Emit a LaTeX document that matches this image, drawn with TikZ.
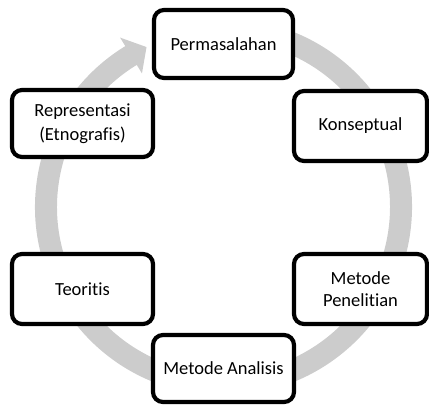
\documentclass[tikz,border=0pt]{standalone}
\usepackage{fontspec}
\setmainfont{Carlito}[Ligatures={NoCommon}]
\usetikzlibrary{calc}
\definecolor{ringgray}{RGB}{204,204,204}
\begin{document}
\begin{tikzpicture}[x=1pt,y=1pt,
  stagebox/.style={draw=black, line width=4.2pt, rounded corners=10pt, fill=white,
    align=center, inner sep=0pt, text=black, font=\fontsize{18.5}{23}\selectfont},
]
\useasboundingbox (0,0) rectangle (429,405);
\coordinate (c) at (223.5,198);
% circular arrow ring
\fill[ringgray] ($(c)+(80:188.5)$) arc[start angle=80, end angle=-238.6, radius=188.5]
  -- ($(c)+(121.4:198.5)$) -- ($(c)+(115.7:177.5)$) -- ($(c)+(121.4:156.5)$)
  -- ($(c)+(121.4:166.5)$) arc[start angle=-238.6, end angle=80, radius=166.5] -- cycle;
% stages
\node[stagebox, minimum width=139, minimum height=68] (perm) at (223.5,361) {Permasalahan};
\node[stagebox, minimum width=133, minimum height=70] (kons) at (360.5,279) {Konseptual};
\node[stagebox, minimum width=133, minimum height=70, font=\fontsize{18.5}{22}\selectfont] (mpen) at (360.5,116) {Metode\\Penelitian};
\node[stagebox, minimum width=141, minimum height=67] (mana) at (223.5,36.5) {Metode Analisis};
\node[stagebox, minimum width=141, minimum height=70] (teor) at (82.5,116) {Teoritis};
\node[stagebox, minimum width=141, minimum height=67, font=\fontsize{18.5}{24}\selectfont] (repr) at (82.5,281.5) {Representasi\\(Etnografis)};
\end{tikzpicture}
\end{document}
